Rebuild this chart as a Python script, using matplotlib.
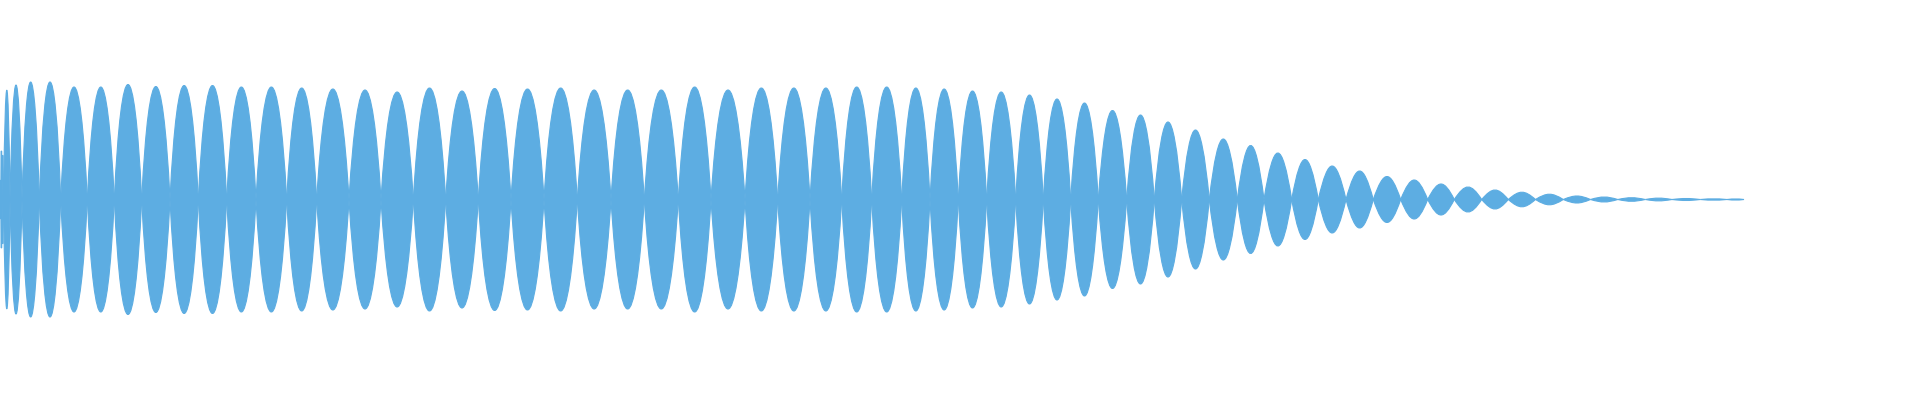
import matplotlib
matplotlib.use("Agg")
import matplotlib.pyplot as plt
from matplotlib.path import Path
from matplotlib.patches import PathPatch

# Zero crossings of the envelope (sample position) and the peak of each lobe
edges = [0, 0.8, 2.0, 3.6, 10, 22, 39.3, 60.7, 87.3, 114.3, 141.7, 170, 198.3,
         226.7, 256, 286.7, 316.7, 349, 381, 413.3, 445.7, 478.3, 511, 544,
         577.3, 611, 644.3, 678.3, 711, 745, 777.7, 810, 841.7, 871.7, 901.7,
         930, 958.3, 986.7, 1015.7, 1043.3, 1070.7, 1098.3, 1126.7, 1154.3,
         1181.7, 1209.3, 1237.3, 1264, 1291.7, 1318.3, 1346, 1373.3, 1400.7,
         1427.7, 1454.3, 1481.7, 1508.3, 1535.5, 1563.3, 1590.5, 1617.8,
         1645.3, 1672, 1700.3, 1727, 1744]
peaks = [23, 58, 46, 109.5, 114.5, 117.5, 117.5, 112.5, 112.5, 115, 113, 114,
         114, 112.5, 112.5, 111.5, 110.5, 109.5, 107.5, 111.5, 108.5, 111,
         110.5, 111.5, 109.5, 109.5, 109.5, 112.5, 109.5, 111.5, 111.5, 111.5,
         112.5, 112.5, 111.5, 110.5, 108.5, 107.5, 104.5, 100.5, 96.5, 89,
         84.5, 77.5, 69.5, 60.5, 54, 46.5, 40, 33.5, 28.5, 23, 19.5, 15.5,
         12.5, 9.5, 7.3, 5.3, 3.5, 2.5, 1.8, 1.4, 1.0, 0.7, 0.6]

color = '#5DADE2'

fig = plt.figure(figsize=(19.2, 4), dpi=100)
ax = fig.add_axes([0, 0, 1, 1])

# each lobe is a lens mirrored around zero (cubic bezier arch);
# loud lobes look a bit fuller than a plain sine arch, quiet ones pointier
k = 4 / 3  # control height so that the arch peaks at the given value
top = max(peaks)
for x0, x1, h in zip(edges[:-1], edges[1:], peaks):
    w = x1 - x0
    c = 0.42 - 0.16 * h / top
    verts = [(x0, 0), (x0 + c*w, k*h), (x1 - c*w, k*h), (x1, 0),
             (x1 - c*w, -k*h), (x0 + c*w, -k*h), (x0, 0), (x0, 0)]
    codes = [Path.MOVETO, Path.CURVE4, Path.CURVE4, Path.CURVE4,
             Path.CURVE4, Path.CURVE4, Path.CURVE4, Path.CLOSEPOLY]
    ax.add_patch(PathPatch(Path(verts, codes), facecolor=color,
                           edgecolor=color, linewidth=0.8))

ax.set_xlim(0, 1920)
ax.set_ylim(-200.5, 199.5)
ax.axis('off')
fig.savefig('out.png', dpi=100, facecolor='white')
